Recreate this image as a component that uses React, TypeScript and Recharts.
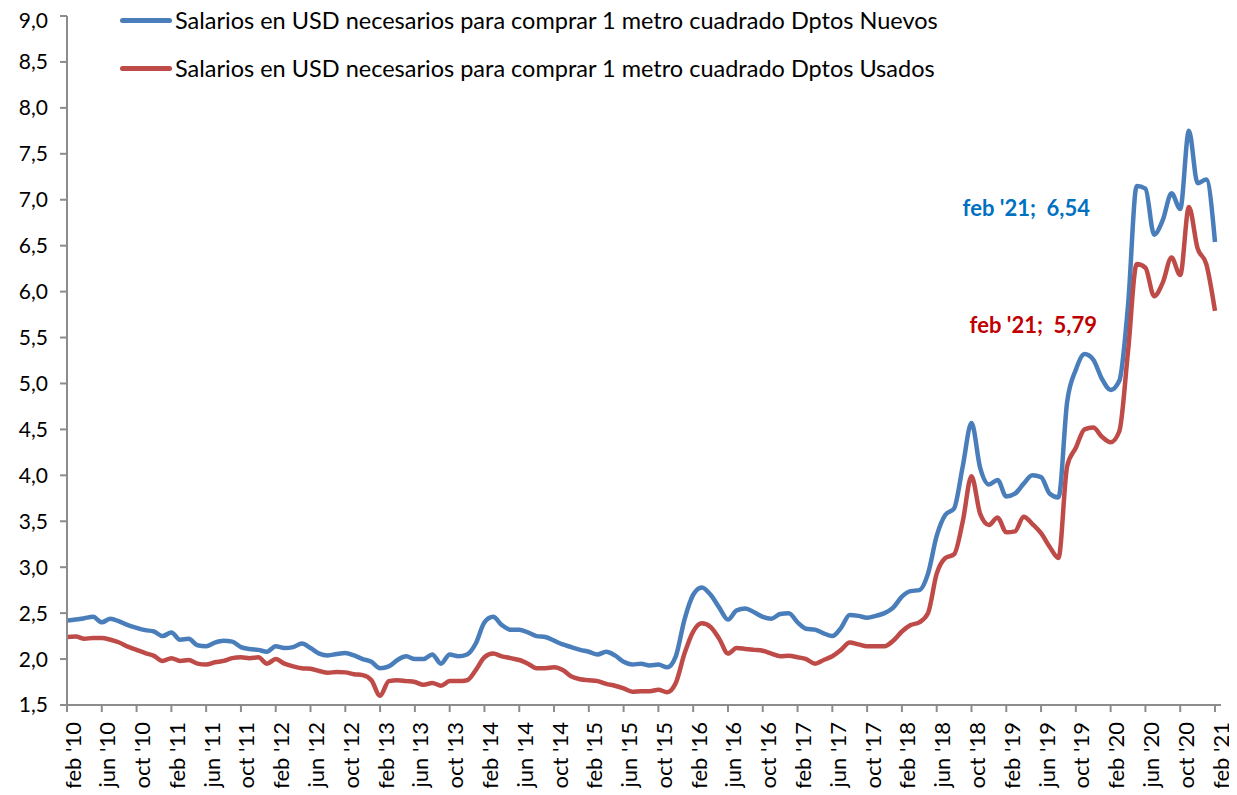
import React from 'react';
import { LineChart, Line, XAxis, YAxis, Legend, LabelList } from 'recharts';

// Colores de la serie (estilo Excel)
const BLUE = '#4a7ebb';
const RED = '#be4b48';
const AXIS = '#8c8c8c';
const FONT = 'Lato, "Open Sans", sans-serif';

const MONTHS = ['ene', 'feb', 'mar', 'abr', 'may', 'jun', 'jul', 'ago', 'sep', 'oct', 'nov', 'dic'];
const START_MONTH = 1; // feb
const START_YEAR = 10; // 2010

const NAME_NUEVOS = 'Salarios en USD necesarios para comprar 1 metro cuadrado Dptos Nuevos';
const NAME_USADOS = 'Salarios en USD necesarios para comprar 1 metro cuadrado Dptos Usados';

// feb '10 ... feb '21, mensual
const nuevos = [
  2.42, 2.43, 2.445, 2.46, 2.40, 2.44, 2.41, 2.37, 2.34, 2.315, 2.30, 2.25,
  2.29, 2.21, 2.22, 2.15, 2.14, 2.18, 2.20, 2.19, 2.13, 2.11, 2.10, 2.08,
  2.14, 2.12, 2.13, 2.17, 2.12, 2.06, 2.04, 2.055, 2.065, 2.04, 2.00, 1.97,
  1.90, 1.92, 1.99, 2.03, 2.00, 2.00, 2.05, 1.95, 2.05, 2.03, 2.05, 2.17,
  2.40, 2.46, 2.37, 2.32, 2.32, 2.29, 2.25, 2.24, 2.20, 2.16, 2.13, 2.10,
  2.08, 2.05, 2.08, 2.04, 1.97, 1.94, 1.95, 1.93, 1.94, 1.91, 2.03, 2.43,
  2.70, 2.78, 2.70, 2.56, 2.43, 2.53, 2.55, 2.51, 2.46, 2.44, 2.49, 2.50,
  2.40, 2.33, 2.32, 2.28, 2.25, 2.34, 2.48, 2.47, 2.45, 2.47, 2.50, 2.56,
  2.68, 2.74, 2.75, 2.93, 3.34, 3.57, 3.64, 4.10, 4.57, 4.08, 3.90, 3.95,
  3.77, 3.80, 3.91, 4.00, 3.98, 3.80, 3.76, 4.80, 5.15, 5.32, 5.26, 5.05,
  4.93, 5.03, 5.85, 7.15, 7.12, 6.62, 6.78, 7.07, 6.90, 7.75, 7.18, 7.22,
  6.54,
];

const usados = [
  2.24, 2.245, 2.22, 2.23, 2.23, 2.21, 2.18, 2.135, 2.10, 2.065, 2.035, 1.98,
  2.01, 1.98, 1.99, 1.95, 1.94, 1.965, 1.98, 2.01, 2.02, 2.01, 2.02, 1.95,
  2.00, 1.95, 1.92, 1.90, 1.895, 1.87, 1.85, 1.86, 1.855, 1.835, 1.825, 1.77,
  1.60, 1.76, 1.77, 1.76, 1.75, 1.72, 1.74, 1.71, 1.76, 1.76, 1.77, 1.88,
  2.02, 2.06, 2.03, 2.01, 1.99, 1.95, 1.90, 1.90, 1.91, 1.88, 1.81, 1.78,
  1.77, 1.76, 1.73, 1.71, 1.68, 1.645, 1.65, 1.65, 1.665, 1.64, 1.74, 2.06,
  2.30, 2.39, 2.35, 2.22, 2.06, 2.12, 2.11, 2.10, 2.09, 2.06, 2.03, 2.035,
  2.02, 2.00, 1.95, 1.99, 2.03, 2.10, 2.18, 2.16, 2.14, 2.14, 2.14, 2.20,
  2.30, 2.37, 2.40, 2.50, 2.93, 3.10, 3.14, 3.50, 3.99, 3.58, 3.46, 3.54,
  3.38, 3.39, 3.55, 3.47, 3.37, 3.22, 3.10, 4.10, 4.30, 4.50, 4.52, 4.42,
  4.36, 4.48, 5.35, 6.30, 6.26, 5.95, 6.10, 6.37, 6.18, 6.92, 6.47, 6.30,
  5.79,
];

const yTicks = [1.5, 2, 2.5, 3, 3.5, 4, 4.5, 5, 5.5, 6, 6.5, 7, 7.5, 8, 8.5, 9];

const labels = nuevos.map((_, i) => {
  const m = START_MONTH + i;
  return `${MONTHS[m % 12]} '${START_YEAR + Math.floor(m / 12)}`;
});

const data = labels.map((label, i) => ({ label, nuevos: nuevos[i], usados: usados[i] }));

const fmt = (v: number, d: number) => v.toFixed(d).replace('.', ',');

const XTick = (props: any) => {
  const { x, y, payload } = props;
  return (
    <text
      transform={`translate(${x + 5},${y + 8}) rotate(-90)`}
      textAnchor="end"
      dominantBaseline="central"
      fontSize={22}
      fontFamily={FONT}
      fill="#000"
    >
      {payload.value}
    </text>
  );
};

const lastLabel = (color: string, dx: number, dy: number) => (props: any) => {
  const { x, y, index, value } = props;
  if (index !== labels.length - 1) return null;
  return (
    <text
      x={x + dx}
      y={y + dy}
      textAnchor="end"
      dominantBaseline="central"
      fontSize={22}
      fontWeight="bold"
      fontFamily={FONT}
      fill={color}
      style={{ whiteSpace: 'pre' }}
    >
      {`${labels[index]};  ${fmt(value, 2)}`}
    </text>
  );
};

const LegendBox = () => (
  <div style={{ fontFamily: FONT, fontSize: 23.5, color: '#000' }}>
    {[
      { name: NAME_NUEVOS, color: BLUE },
      { name: NAME_USADOS, color: RED },
    ].map((item) => (
      <div key={item.name} style={{ display: 'flex', alignItems: 'center', height: 48 }}>
        <span
          style={{ display: 'inline-block', width: 52, height: 5, borderRadius: 3, background: item.color, marginRight: 3 }}
        />
        <span style={{ whiteSpace: 'nowrap' }}>{item.name}</span>
      </div>
    ))}
  </div>
);

export default function App() {
  return (
    <div style={{ background: '#fff' }}>
      <LineChart width={1229} height={780} data={data} margin={{ top: 8, right: 16, bottom: 3, left: 4 }}>
        <XAxis
          dataKey="label"
          interval={3}
          tick={<XTick />}
          tickSize={7}
          height={80}
          padding={{ left: 0, right: 6 }}
          axisLine={{ stroke: AXIS, strokeWidth: 2 }}
          tickLine={{ stroke: AXIS, strokeWidth: 2 }}
        />
        <YAxis
          domain={[1.5, 9]}
          ticks={yTicks}
          width={55}
          tickSize={7}
          tickMargin={12}
          tickFormatter={(v: number) => fmt(v, 1)}
          tick={{ fontSize: 21, fontFamily: FONT, fill: '#000' }}
          axisLine={{ stroke: AXIS, strokeWidth: 2 }}
          tickLine={{ stroke: AXIS, strokeWidth: 2 }}
        />
        <Legend
          layout="vertical"
          align="center"
          verticalAlign="middle"
          content={<LegendBox />}
          wrapperStyle={{ top: -12, left: 112, width: 'auto' }}
        />
        <Line
          type="monotone"
          dataKey="nuevos"
          name={NAME_NUEVOS}
          stroke={BLUE}
          strokeWidth={4.5}
          dot={false}
          activeDot={false}
          isAnimationActive={false}
        >
          <LabelList dataKey="nuevos" content={lastLabel('#0070c0', -125, -34)} />
        </Line>
        <Line
          type="monotone"
          dataKey="usados"
          name={NAME_USADOS}
          stroke={RED}
          strokeWidth={4.5}
          dot={false}
          activeDot={false}
          isAnimationActive={false}
        >
          <LabelList dataKey="usados" content={lastLabel('#c00000', -118, 14)} />
        </Line>
      </LineChart>
    </div>
  );
}
